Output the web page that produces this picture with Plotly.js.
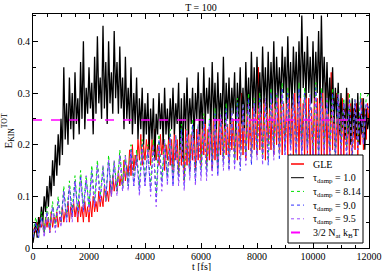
<!DOCTYPE html>
<html><head><meta charset="utf-8">
<script src="https://cdn.plot.ly/plotly-3.0.1.min.js"></script>
<style>html,body{margin:0;padding:0;background:#fff}#c{width:382px;height:271px}</style>
</head><body><div id="c"></div>
<script>
// sampling grids (fs)
const times50 = Array.from({length: 241}, (_, i) => i * 50);
const times100 = Array.from({length: 121}, (_, i) => i * 100);

const gle = [
 0.03,0.04,0.03,0.05,0.03,0.06,0.04,0.05,0.03,0.06,
 0.04,0.06,0.03,0.07,0.04,0.06,0.05,0.07,0.04,0.06,
 0.05,0.08,0.05,0.07,0.06,0.09,0.05,0.08,0.06,0.09,
 0.06,0.08,0.05,0.09,0.06,0.08,0.05,0.09,0.06,0.08,
 0.05,0.09,0.06,0.10,0.07,0.09,0.07,0.11,0.08,0.10,
 0.08,0.12,0.09,0.11,0.09,0.13,0.10,0.14,0.11,0.13,
 0.11,0.15,0.12,0.14,0.12,0.17,0.13,0.16,0.14,0.19,
 0.14,0.20,0.15,0.18,0.16,0.21,0.17,0.22,0.16,0.20,
 0.17,0.21,0.18,0.22,0.16,0.21,0.18,0.23,0.17,0.20,
 0.16,0.22,0.18,0.21,0.15,0.20,0.17,0.22,0.16,0.21,
 0.15,0.23,0.17,0.21,0.14,0.24,0.16,0.22,0.13,0.23,
 0.16,0.25,0.15,0.22,0.17,0.24,0.15,0.23,0.17,0.25,
 0.16,0.24,0.18,0.26,0.16,0.23,0.17,0.25,0.15,0.27,
 0.17,0.24,0.16,0.26,0.18,0.25,0.17,0.27,0.18,0.24,
 0.17,0.28,0.19,0.25,0.18,0.27,0.17,0.26,0.19,0.30,
 0.18,0.26,0.17,0.28,0.19,0.25,0.18,0.29,0.19,0.27,
 0.18,0.35,0.19,0.27,0.18,0.29,0.17,0.28,0.20,0.27,
 0.19,0.30,0.18,0.28,0.20,0.29,0.19,0.31,0.18,0.28,
 0.19,0.29,0.18,0.31,0.20,0.28,0.17,0.30,0.19,0.29,
 0.18,0.31,0.19,0.28,0.17,0.30,0.18,0.29,0.16,0.27,
 0.18,0.30,0.17,0.29,0.18,0.36,0.17,0.30,0.16,0.32,
 0.18,0.28,0.16,0.34,0.19,0.29,0.17,0.30,0.18,0.28,
 0.17,0.29,0.18,0.27,0.19,0.30,0.17,0.28,0.18,0.27,
 0.19,0.28,0.18,0.26,0.20,0.29,0.19,0.27,0.21,0.28,
 0.24];

const tau1_0 = [
 0.01,0.03,0.05,0.02,0.06,0.04,0.08,0.05,0.10,0.07,
 0.12,0.08,0.14,0.10,0.17,0.12,0.20,0.14,0.22,0.16,
 0.25,0.18,0.35,0.21,0.28,0.20,0.33,0.23,0.30,0.21,
 0.34,0.24,0.29,0.22,0.36,0.25,0.40,0.23,0.31,0.26,
 0.35,0.27,0.32,0.22,0.37,0.26,0.41,0.28,0.33,0.25,
 0.43,0.27,0.36,0.24,0.40,0.28,0.34,0.26,0.42,0.29,
 0.36,0.26,0.39,0.27,0.33,0.23,0.37,0.25,0.31,0.24,
 0.35,0.22,0.30,0.24,0.33,0.21,0.29,0.23,0.31,0.20,
 0.28,0.22,0.30,0.19,0.27,0.21,0.29,0.17,0.26,0.22,
 0.30,0.23,0.28,0.20,0.31,0.22,0.27,0.21,0.29,0.23,
 0.31,0.22,0.28,0.24,0.32,0.19,0.29,0.17,0.30,0.23,
 0.33,0.22,0.29,0.24,0.31,0.21,0.30,0.25,0.34,0.22,
 0.30,0.23,0.35,0.24,0.31,0.26,0.33,0.22,0.36,0.25,
 0.32,0.23,0.34,0.25,0.30,0.24,0.37,0.23,0.32,0.25,
 0.33,0.24,0.31,0.26,0.34,0.22,0.32,0.25,0.35,0.24,
 0.31,0.23,0.36,0.26,0.33,0.25,0.38,0.27,0.35,0.26,
 0.37,0.27,0.34,0.26,0.39,0.28,0.35,0.26,0.38,0.27,
 0.36,0.28,0.40,0.27,0.37,0.29,0.35,0.28,0.39,0.30,
 0.37,0.28,0.41,0.29,0.36,0.27,0.39,0.30,0.38,0.28,
 0.40,0.29,0.45,0.31,0.38,0.29,0.41,0.30,0.37,0.28,
 0.40,0.29,0.38,0.30,0.42,0.28,0.45,0.30,0.37,0.27,
 0.36,0.26,0.33,0.25,0.35,0.24,0.31,0.25,0.32,0.22,
 0.30,0.23,0.28,0.21,0.31,0.22,0.27,0.20,0.29,0.22,
 0.28,0.21,0.30,0.20,0.26,0.22,0.29,0.19,0.27,0.23,
 0.25];

const tau8_14 = [
 0.03,0.06,0.02,0.07,0.03,0.08,0.04,0.09,0.04,0.10,0.05,
 0.12,0.06,0.13,0.07,0.14,0.07,0.15,0.08,0.14,0.08,
 0.16,0.09,0.17,0.10,0.16,0.09,0.18,0.11,0.17,0.11,
 0.19,0.12,0.18,0.12,0.20,0.13,0.19,0.12,0.21,0.13,
 0.20,0.12,0.21,0.10,0.22,0.13,0.21,0.14,0.23,0.13,
 0.22,0.14,0.24,0.13,0.23,0.15,0.25,0.14,0.24,0.15,
 0.26,0.15,0.25,0.16,0.27,0.15,0.26,0.17,0.28,0.16,
 0.27,0.17,0.29,0.16,0.28,0.18,0.30,0.17,0.29,0.19,
 0.30,0.18,0.29,0.17,0.31,0.19,0.30,0.18,0.32,0.19,
 0.31,0.20,0.30,0.18,0.32,0.19,0.31,0.20,0.30,0.19,
 0.32,0.18,0.31,0.20,0.29,0.19,0.31,0.18,0.30,0.20,
 0.29,0.19,0.30,0.18,0.29,0.20,0.30,0.21,0.29,0.30];

const tau9_0 = [
 0.02,0.05,0.02,0.06,0.03,0.07,0.03,0.08,0.04,0.09,0.05,
 0.11,0.05,0.12,0.06,0.13,0.07,0.14,0.07,0.13,0.08,
 0.15,0.08,0.16,0.09,0.15,0.10,0.17,0.10,0.16,0.11,
 0.18,0.11,0.17,0.12,0.19,0.12,0.18,0.11,0.20,0.12,
 0.19,0.11,0.20,0.09,0.21,0.12,0.20,0.13,0.22,0.12,
 0.21,0.13,0.23,0.12,0.22,0.14,0.24,0.13,0.23,0.14,
 0.25,0.14,0.24,0.15,0.26,0.14,0.25,0.16,0.27,0.15,
 0.26,0.16,0.28,0.15,0.27,0.17,0.29,0.16,0.28,0.18,
 0.29,0.17,0.28,0.16,0.30,0.18,0.29,0.17,0.31,0.18,
 0.30,0.19,0.29,0.17,0.31,0.18,0.30,0.19,0.29,0.18,
 0.31,0.17,0.30,0.19,0.28,0.18,0.30,0.17,0.29,0.19,
 0.28,0.18,0.29,0.17,0.28,0.19,0.29,0.20,0.28,0.27];

const tau9_5 = [
 0.03,0.04,0.02,0.06,0.02,0.07,0.03,0.08,0.03,0.09,0.04,
 0.11,0.05,0.12,0.05,0.13,0.06,0.13,0.07,0.14,0.07,
 0.14,0.08,0.16,0.09,0.16,0.09,0.17,0.10,0.17,0.10,
 0.18,0.11,0.18,0.11,0.19,0.12,0.18,0.10,0.19,0.12,
 0.19,0.10,0.20,0.08,0.20,0.11,0.21,0.12,0.21,0.12,
 0.22,0.12,0.22,0.11,0.23,0.13,0.23,0.12,0.24,0.13,
 0.24,0.13,0.25,0.14,0.25,0.14,0.26,0.15,0.26,0.15,
 0.27,0.15,0.27,0.16,0.28,0.16,0.28,0.17,0.28,0.17,
 0.28,0.16,0.29,0.17,0.29,0.17,0.30,0.18,0.30,0.18,
 0.29,0.18,0.30,0.18,0.30,0.17,0.29,0.18,0.30,0.18,
 0.30,0.18,0.29,0.18,0.29,0.17,0.29,0.18,0.30,0.18,
 0.28,0.17,0.28,0.18,0.29,0.19,0.28,0.20,0.28,0.26];

const refLevel = 0.248;        // 3/2 N_at k_B T
const refX = [0, 12000];

const seriesNames = ['GLE', 'τ<sub>damp</sub> = 1.0', 'τ<sub>damp</sub> = 8.14',
  'τ<sub>damp</sub> = 9.0', 'τ<sub>damp</sub> = 9.5', '3/2 N<sub>at</sub> k<sub>B</sub>T'];
const seriesColors = ['#ff0000', '#000000', '#00e000', '#3030ff', '#9a4cff', '#ff00ff'];
const seriesDash = ['solid', 'solid', 'dot', 'dot', 'dot', 'dash'];
const seriesWidth = [1, 1.3, 1, 1, 1, 1.5];
const xTickVals = [0, 2000, 4000, 6000, 8000, 10000, 12000];
const yTickVals = [0, 0.1, 0.2, 0.3, 0.4];
const yTickText = ['0', '0.1', '0.2', '0.3', '0.4'];

const serif = 'Liberation Serif, Times New Roman, serif';
function tr(x, y, k) {
  return {x: x, y: y, name: seriesNames[k], type: 'scatter', mode: 'lines',
    line: {color: seriesColors[k], width: seriesWidth[k], dash: seriesDash[k], simplify: false}};
}
const data = [
  tr(times50, gle, 0),
  tr(times50, tau1_0, 1),
  tr(times100, tau8_14, 2),
  tr(times100, tau9_0, 3),
  tr(times100, tau9_5, 4),
  tr(refX, [refLevel, refLevel], 5)
];

// hand-made legend box (paper coordinates derived from pixel layout)
const L = 33, R = 369, T = 14, B = 248;
const px = v => (v - L) / (R - L);
const py = v => (B - v) / (B - T);
const shapes = [{type: 'rect', xref: 'paper', yref: 'paper',
  x0: px(288), x1: px(363), y0: py(243), y1: py(155),
  line: {color: '#000', width: 1}, fillcolor: '#fff', layer: 'above'}];
const annotations = [];
seriesNames.forEach((nm, k) => {
  const yc = 164 + k * 13.7;
  shapes.push({type: 'line', xref: 'paper', yref: 'paper', layer: 'above',
    x0: px(291), x1: px(304), y0: py(yc), y1: py(yc),
    line: {color: seriesColors[k], width: k === 0 ? 1.5 : (k === 5 ? 2 : 1), dash: seriesDash[k]}});
  annotations.push({xref: 'paper', yref: 'paper', x: px(311), y: py(yc + (k === 0 ? 0 : 1)),
    xanchor: 'left', yanchor: 'middle', showarrow: false, text: nm,
    font: {family: serif, size: 10, color: '#000'}});
});
// x-axis title placed just under the tick labels
annotations.push({xref: 'paper', yref: 'paper', x: 0.5, y: py(271), xanchor: 'center',
  yanchor: 'bottom', showarrow: false, text: 't [fs]', yshift: -2, borderpad: 0,
  font: {family: serif, size: 10, color: '#000'}});

const axisBase = {showline: true, linecolor: '#000', linewidth: 1, mirror: 'ticks',
  ticks: 'inside', ticklen: 5, tickcolor: '#000', showgrid: false, zeroline: false,
  tickfont: {family: serif, size: 10, color: '#000'}};
const layout = {
  width: 382, height: 271,
  margin: {l: L, r: 382 - R, t: T, b: 271 - B},
  paper_bgcolor: '#fff', plot_bgcolor: '#fff',
  font: {family: serif, size: 10, color: '#000'},
  title: {text: 'T = 100', font: {family: serif, size: 10, color: '#000'},
    x: 0.526, xanchor: 'center', y: 0.985, yanchor: 'top'},
  xaxis: Object.assign({}, axisBase, {range: [0, 12000], tickvals: xTickVals,
    ticktext: xTickVals.map(String), ticklabelstandoff: -1,
    minor: {dtick: 500, ticklen: 3, tickcolor: '#000', ticks: 'inside'}}),
  yaxis: Object.assign({}, axisBase, {range: [0, 0.453], tickvals: yTickVals,
    ticktext: yTickText,
    minor: {dtick: 0.05, ticklen: 3, tickcolor: '#000', ticks: 'inside'},
    title: {text: 'E<sub>KIN</sub><sup>TOT</sup>', font: {family: serif, size: 11}, standoff: 4}}),
  shapes: shapes,
  annotations: annotations,
  showlegend: false
};
Plotly.newPlot('c', data, layout, {staticPlot: true, displayModeBar: false});
</script></body></html>
